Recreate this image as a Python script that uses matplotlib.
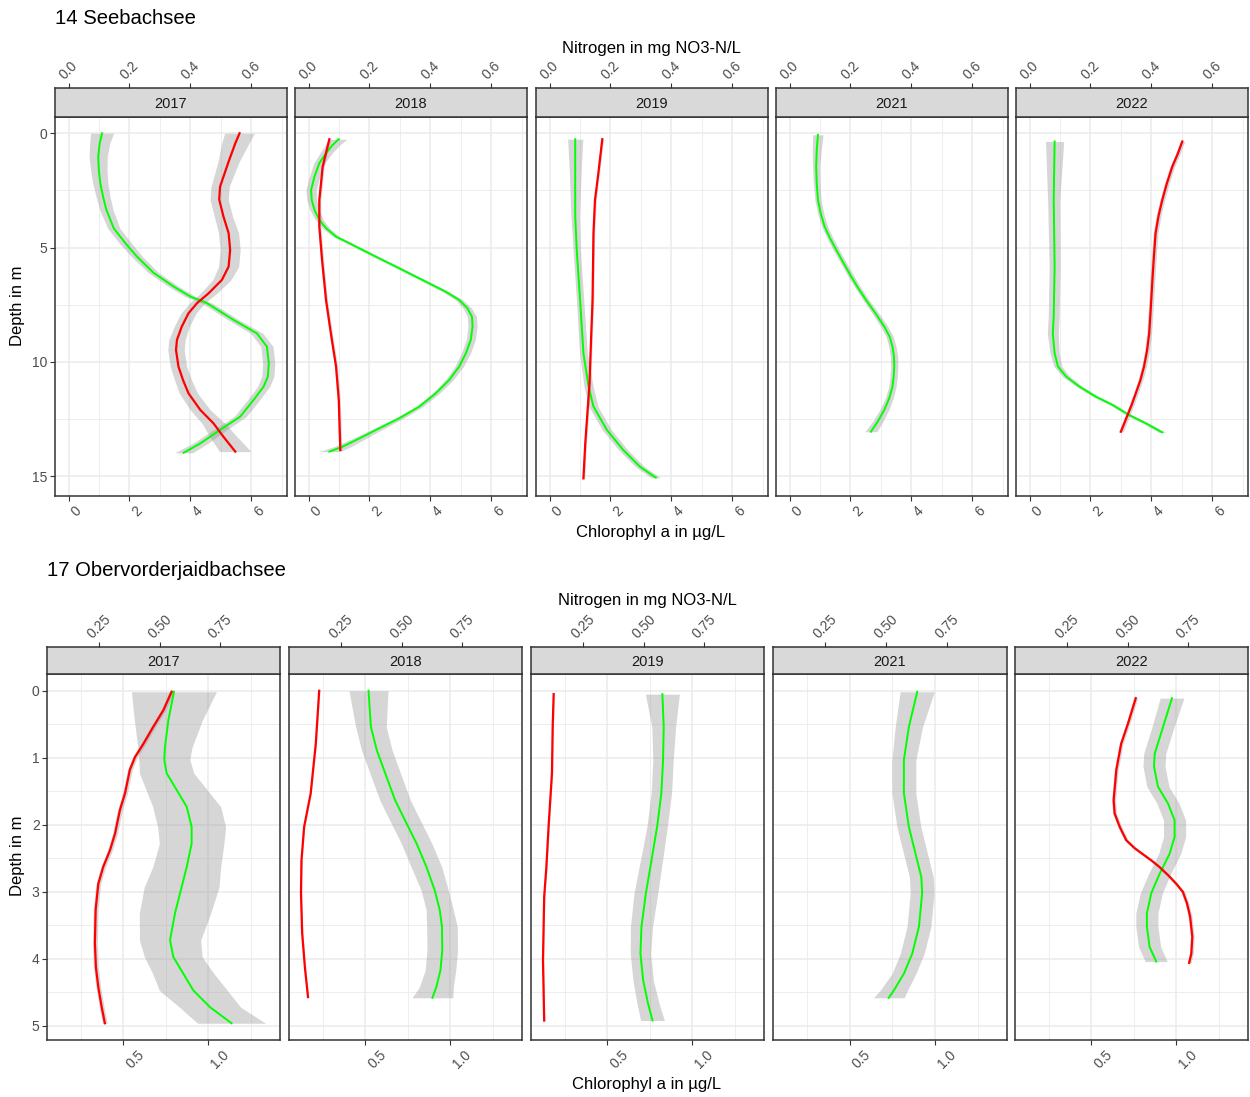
import matplotlib
matplotlib.use('Agg')
import matplotlib.pyplot as plt
import numpy as np

plt.rcParams['font.family'] = ['Liberation Sans', 'DejaVu Sans']

# ---------------- data: lake 14 Seebachsee ----------------
years = ['2017', '2018', '2019', '2021', '2022']

s14_2017_chl_depth = [0, 0.44, 1.02, 1.6, 2.19, 2.77, 3.35, 4.15, 4.8, 5.4, 6.1, 6.7, 7.14, 7.43, 8.16, 8.75, 9.33, 10.06, 10.64, 11.08, 11.66, 12.39, 12.97, 13.56, 13.97]
s14_2017_chl = [1.10, 1.02, 0.97, 0.99, 1.04, 1.13, 1.24, 1.48, 1.86, 2.25, 2.79, 3.45, 4.0, 4.55, 5.42, 6.19, 6.52, 6.58, 6.55, 6.41, 6.08, 5.64, 4.98, 4.33, 3.78]
s14_2017_chl_se = [0.38, 0.33, 0.3, 0.27, 0.25, 0.23, 0.22, 0.2, 0.2, 0.18, 0.17, 0.17, 0.17, 0.17, 0.18, 0.2, 0.2, 0.2, 0.2, 0.2, 0.2, 0.2, 0.22, 0.25, 0.3]
s14_2017_n_depth = [0, 0.44, 1.24, 2.33, 2.9, 3.64, 4.37, 5.1, 5.83, 6.41, 7.0, 7.43, 7.87, 8.45, 9.04, 9.48, 10.2, 10.79, 11.37, 12.1, 12.68, 13.27, 13.92]
s14_2017_n = [0.562, 0.548, 0.526, 0.498, 0.495, 0.509, 0.526, 0.531, 0.526, 0.504, 0.46, 0.422, 0.394, 0.372, 0.356, 0.353, 0.361, 0.376, 0.394, 0.433, 0.476, 0.509, 0.548]
s14_2017_n_se = [0.049, 0.045, 0.035, 0.03, 0.03, 0.03, 0.033, 0.033, 0.033, 0.03, 0.027, 0.025, 0.025, 0.025, 0.027, 0.027, 0.027, 0.028, 0.03, 0.033, 0.038, 0.045, 0.052]

s14_2018_chl_depth = [0.26, 0.51, 0.87, 1.31, 1.90, 2.48, 2.92, 3.35, 3.79, 4.15, 4.52, 4.81, 5.1, 5.47, 5.83, 6.2, 6.56, 6.93, 7.29, 7.65, 8.02, 8.45, 9.04, 9.62, 10.2, 10.79, 11.37, 11.95, 12.46, 12.9, 13.34, 13.7, 13.92]
s14_2018_chl = [0.99, 0.79, 0.57, 0.35, 0.19, 0.08, 0.10, 0.19, 0.35, 0.57, 0.90, 1.34, 1.77, 2.32, 2.87, 3.42, 3.96, 4.51, 4.95, 5.22, 5.37, 5.39, 5.33, 5.17, 4.95, 4.62, 4.18, 3.64, 2.98, 2.32, 1.67, 1.12, 0.68]
s14_2018_chl_se = [0.27, 0.24, 0.2, 0.18, 0.17, 0.17, 0.16, 0.15, 0.13, 0.12, 0.11, 0.1, 0.1, 0.1, 0.1, 0.1, 0.1, 0.11, 0.12, 0.14, 0.15, 0.15, 0.15, 0.15, 0.14, 0.13, 0.12, 0.12, 0.14, 0.17, 0.22, 0.28, 0.35]
s14_2018_n_depth = [0.26, 1.46, 2.92, 4.08, 5.54, 7.29, 8.75, 10.2, 11.66, 13.85]
s14_2018_n = [0.068, 0.046, 0.035, 0.035, 0.044, 0.057, 0.073, 0.09, 0.099, 0.104]
s14_2018_n_se = [0.005] * 10

s14_2019_chl_depth = [0.26, 1.5, 3.64, 5.1, 7.29, 9.62, 11.08, 11.95, 12.97, 13.85, 14.58, 15.06]
s14_2019_chl = [0.84, 0.84, 0.84, 0.89, 1.0, 1.11, 1.28, 1.44, 1.88, 2.42, 2.97, 3.49]
s14_2019_chl_se = [0.25, 0.2, 0.14, 0.12, 0.12, 0.13, 0.15, 0.15, 0.15, 0.15, 0.15, 0.15]
s14_2019_n_depth = [0.26, 1.75, 2.92, 4.37, 7.29, 9.04, 10.93, 12.24, 13.56, 15.09]
s14_2019_n = [0.173, 0.16, 0.149, 0.144, 0.141, 0.136, 0.131, 0.124, 0.117, 0.111]
s14_2019_n_se = [0.004] * 10

s14_2021_chl_depth = [0.07, 0.73, 1.46, 2.19, 2.92, 3.5, 4.08, 4.6, 5.1, 5.6, 6.12, 6.7, 7.29, 7.87, 8.45, 8.9, 9.33, 9.77, 10.2, 10.64, 11.08, 11.6, 12.1, 12.6, 13.05]
s14_2021_chl = [0.93, 0.89, 0.87, 0.89, 0.93, 1.02, 1.15, 1.33, 1.53, 1.74, 1.96, 2.22, 2.51, 2.82, 3.11, 3.29, 3.38, 3.43, 3.44, 3.42, 3.38, 3.27, 3.11, 2.9, 2.67]
s14_2021_chl_se = [0.17, 0.15, 0.12, 0.11, 0.1, 0.1, 0.1, 0.1, 0.1, 0.1, 0.1, 0.1, 0.1, 0.11, 0.12, 0.12, 0.12, 0.12, 0.12, 0.12, 0.12, 0.13, 0.15, 0.17, 0.2]
s14_2021_n_depth = []
s14_2021_n = []
s14_2021_n_se = []

s14_2022_chl_depth = [0.36, 2.92, 5.83, 8.02, 8.75, 9.62, 10.2, 10.64, 11.08, 11.52, 11.88, 12.32, 12.68, 13.08]
s14_2022_chl = [0.82, 0.79, 0.82, 0.79, 0.76, 0.82, 0.93, 1.2, 1.64, 2.18, 2.73, 3.27, 3.82, 4.36]
s14_2022_chl_se = [0.3, 0.2, 0.18, 0.18, 0.18, 0.15, 0.13, 0.12, 0.1, 0.1, 0.1, 0.1, 0.1, 0.12]
s14_2022_n_depth = [0.36, 0.9, 1.46, 2.2, 2.92, 3.6, 4.37, 5.5, 6.56, 7.7, 8.75, 9.5, 10.2, 10.8, 11.37, 11.85, 12.32, 13.05]
s14_2022_n = [0.502, 0.487, 0.469, 0.451, 0.436, 0.424, 0.414, 0.408, 0.403, 0.398, 0.393, 0.386, 0.376, 0.364, 0.349, 0.336, 0.322, 0.300]
s14_2022_n_se = [0.008] * 18

# ---------------- data: lake 17 Obervorderjaidbachsee ----------------
s17_2017_chl_depth = [0.015, 0.44, 0.84, 1.03, 1.23, 1.48, 1.73, 2.03, 2.28, 2.63, 2.93, 3.32, 3.72, 3.97, 4.22, 4.47, 4.72, 4.96]
s17_2017_chl = [0.798, 0.765, 0.745, 0.741, 0.755, 0.814, 0.873, 0.902, 0.902, 0.873, 0.843, 0.804, 0.775, 0.794, 0.853, 0.912, 1.01, 1.137]
s17_2017_chl_se = [0.25, 0.2, 0.16, 0.15, 0.16, 0.18, 0.2, 0.2, 0.19, 0.2, 0.22, 0.21, 0.18, 0.17, 0.18, 0.2, 0.18, 0.2]
s17_2017_n_depth = [0.015, 0.29, 0.54, 0.79, 0.99, 1.18, 1.53, 1.78, 2.13, 2.38, 2.63, 2.88, 3.27, 3.77, 4.12, 4.42, 4.72, 4.96]
s17_2017_n = [0.549, 0.515, 0.473, 0.433, 0.398, 0.377, 0.357, 0.336, 0.316, 0.295, 0.267, 0.247, 0.236, 0.233, 0.237, 0.247, 0.261, 0.274]
s17_2017_n_se = [0.01] * 18

s17_2018_chl_depth = [0, 0.54, 0.89, 1.23, 1.63, 1.93, 2.28, 2.63, 2.98, 3.27, 3.52, 3.87, 4.17, 4.42, 4.58]
s17_2018_chl = [0.519, 0.533, 0.568, 0.617, 0.675, 0.733, 0.802, 0.86, 0.909, 0.938, 0.951, 0.953, 0.942, 0.918, 0.895]
s17_2018_chl_se = [0.115, 0.09, 0.09, 0.09, 0.09, 0.09, 0.09, 0.09, 0.08, 0.08, 0.09, 0.09, 0.09, 0.1, 0.12]
s17_2018_n_depth = [0, 0.79, 1.53, 2.03, 2.53, 3.02, 3.62, 4.12, 4.57]
s17_2018_n = [0.160, 0.146, 0.125, 0.098, 0.087, 0.085, 0.090, 0.101, 0.114]
s17_2018_n_se = [0.003] * 9

s17_2019_chl_depth = [0.05, 0.54, 1.03, 1.53, 2.03, 2.53, 3.02, 3.52, 3.92, 4.32, 4.67, 4.92]
s17_2019_chl = [0.824, 0.832, 0.828, 0.818, 0.793, 0.76, 0.727, 0.701, 0.695, 0.711, 0.74, 0.766]
s17_2019_chl_se = [0.1, 0.07, 0.06, 0.06, 0.06, 0.065, 0.07, 0.065, 0.06, 0.06, 0.065, 0.07]
s17_2019_n_depth = [0.05, 0.54, 1.23, 1.63, 2.03, 2.63, 3.07, 4.02, 4.92]
s17_2019_n = [0.129, 0.125, 0.122, 0.115, 0.108, 0.099, 0.090, 0.085, 0.090]
s17_2019_n_se = [0.003] * 9

s17_2021_chl_depth = [0.015, 0.54, 1.03, 1.53, 2.03, 2.43, 2.78, 3.02, 3.52, 3.92, 4.22, 4.47, 4.58]
s17_2021_chl = [0.896, 0.847, 0.818, 0.818, 0.847, 0.886, 0.92, 0.925, 0.906, 0.867, 0.818, 0.759, 0.729]
s17_2021_chl_se = [0.1, 0.08, 0.07, 0.07, 0.07, 0.07, 0.07, 0.07, 0.07, 0.07, 0.07, 0.08, 0.09]
s17_2021_n_depth = []
s17_2021_n = []
s17_2021_n_se = []

s17_2022_chl_depth = [0.11, 0.54, 0.94, 1.13, 1.43, 1.68, 1.93, 2.18, 2.43, 2.73, 3.02, 3.32, 3.52, 3.82, 4.04]
s17_2022_chl = [0.975, 0.922, 0.873, 0.869, 0.892, 0.951, 0.99, 0.99, 0.961, 0.902, 0.853, 0.827, 0.827, 0.843, 0.882]
s17_2022_chl_se = [0.07, 0.065, 0.065, 0.065, 0.065, 0.065, 0.065, 0.065, 0.065, 0.065, 0.065, 0.065, 0.065, 0.065, 0.065]
s17_2022_n_depth = [0.11, 0.49, 0.79, 1.18, 1.63, 1.83, 2.03, 2.23, 2.35, 2.44, 2.53, 2.63, 2.75, 2.88, 3.0, 3.17, 3.37, 3.67, 3.92, 4.06]
s17_2022_n = [0.533, 0.501, 0.473, 0.453, 0.442, 0.446, 0.467, 0.494, 0.529, 0.563, 0.597, 0.631, 0.666, 0.70, 0.727, 0.744, 0.757, 0.766, 0.762, 0.753]
s17_2022_n_se = [0.008] * 20

# tick labels
s14_chl_ticks = [0, 2, 4, 6]
s14_n_ticks = [0.0, 0.2, 0.4, 0.6]
s14_depth_ticks = [0, 5, 10, 15]
s17_chl_ticks = [0.5, 1.0]
s17_n_ticks = [0.25, 0.50, 0.75]
s17_depth_ticks = [0, 1, 2, 3, 4, 5]

lake14 = {
    '2017': (s14_2017_chl_depth, s14_2017_chl, s14_2017_chl_se, s14_2017_n_depth, s14_2017_n, s14_2017_n_se),
    '2018': (s14_2018_chl_depth, s14_2018_chl, s14_2018_chl_se, s14_2018_n_depth, s14_2018_n, s14_2018_n_se),
    '2019': (s14_2019_chl_depth, s14_2019_chl, s14_2019_chl_se, s14_2019_n_depth, s14_2019_n, s14_2019_n_se),
    '2021': (s14_2021_chl_depth, s14_2021_chl, s14_2021_chl_se, s14_2021_n_depth, s14_2021_n, s14_2021_n_se),
    '2022': (s14_2022_chl_depth, s14_2022_chl, s14_2022_chl_se, s14_2022_n_depth, s14_2022_n, s14_2022_n_se),
}
lake17 = {
    '2017': (s17_2017_chl_depth, s17_2017_chl, s17_2017_chl_se, s17_2017_n_depth, s17_2017_n, s17_2017_n_se),
    '2018': (s17_2018_chl_depth, s17_2018_chl, s17_2018_chl_se, s17_2018_n_depth, s17_2018_n, s17_2018_n_se),
    '2019': (s17_2019_chl_depth, s17_2019_chl, s17_2019_chl_se, s17_2019_n_depth, s17_2019_n, s17_2019_n_se),
    '2021': (s17_2021_chl_depth, s17_2021_chl, s17_2021_chl_se, s17_2021_n_depth, s17_2021_n, s17_2021_n_se),
    '2022': (s17_2022_chl_depth, s17_2022_chl, s17_2022_chl_se, s17_2022_n_depth, s17_2022_n, s17_2022_n_se),
}

# ---------------- layout ----------------
W, H = 1250, 1097
fig = plt.figure(figsize=(W / 100, H / 100), dpi=100)
fig.patch.set_facecolor('white')


def rect(x0, y0, x1, y1):
    return [x0 / W, 1 - y1 / H, (x1 - x0) / W, (y1 - y0) / H]


BORDER = '#333333'
GRID = '#ebebeb'
TICKC = '#4d4d4d'
TICKFS = 10
STRIPFS = 10.5
RIBBON = '#999999'
TICKLEN = 3.3


def draw_section(data, xs, strip_y, panel_y, xlim, ylim, chl_ticks, chl_minor, chl_fmt,
                 n_factor, n_ticks, n_fmt, depth_ticks, depth_minor):
    for i, yr in enumerate(years):
        x0, x1 = xs[i]
        ax = fig.add_axes(rect(x0, panel_y[0], x1, panel_y[1]))
        cd, cv, cse, nd, nv, nse = data[yr]
        cd = np.asarray(cd); cv = np.asarray(cv); cse = np.asarray(cse)
        nd = np.asarray(nd); nv = np.asarray(nv) / n_factor; nse = np.asarray(nse) / n_factor
        ax.fill_betweenx(cd, cv - cse, cv + cse, color=RIBBON, alpha=0.4, lw=0, zorder=2)
        if len(nd):
            ax.fill_betweenx(nd, nv - nse, nv + nse, color=RIBBON, alpha=0.4, lw=0, zorder=2)
        ax.plot(cv, cd, color='#00ff00', lw=1.4, zorder=3, solid_joinstyle='round')
        if len(nd):
            ax.plot(nv, nd, color='#ff0000', lw=1.6, zorder=3, solid_joinstyle='round')
        ax.set_xlim(*xlim)
        ax.set_ylim(*ylim)
        ax.set_xticks(chl_ticks)
        ax.set_xticks(chl_minor, minor=True)
        ax.set_yticks(depth_ticks)
        ax.set_yticks(depth_minor, minor=True)
        ax.grid(True, which='major', color=GRID, lw=1.1, zorder=0)
        ax.grid(True, which='minor', color=GRID, lw=0.6, zorder=0)
        ax.set_axisbelow(True)
        for s in ax.spines.values():
            s.set_color(BORDER)
            s.set_linewidth(1.1)
        ax.tick_params(which='minor', length=0)
        ax.tick_params(which='major', length=TICKLEN, width=0.8, color=BORDER, labelcolor=TICKC,
                       labelsize=TICKFS, pad=2)
        ax.set_xticklabels([chl_fmt(v) for v in chl_ticks], rotation=45, ha='left', va='top')
        if i == 0:
            ax.set_yticklabels([str(v) for v in depth_ticks])
        else:
            ax.tick_params(axis='y', labelleft=False, length=0)
        # strip with nitrogen axis on top
        sx = fig.add_axes(rect(x0, strip_y[0], x1, strip_y[1]))
        sx.set_facecolor('#d9d9d9')
        for s in sx.spines.values():
            s.set_color(BORDER)
            s.set_linewidth(1.1)
        sx.set_xlim(xlim[0] * n_factor, xlim[1] * n_factor)
        sx.set_ylim(0, 1)
        sx.set_yticks([])
        sx.xaxis.tick_top()
        sx.set_xticks(n_ticks)
        sx.set_xticklabels([n_fmt(v) for v in n_ticks], rotation=45, ha='center', va='bottom')
        sx.tick_params(axis='x', length=TICKLEN, width=0.8, color=BORDER, labelcolor=TICKC,
                       labelsize=TICKFS, pad=1)
        sx.text(0.5, 0.5, yr, transform=sx.transAxes, ha='center', va='center_baseline',
                fontsize=STRIPFS, color='#1a1a1a')


# top section
draw_section(lake14,
             xs=[(55, 287), (295, 527), (536, 768), (776, 1008), (1016, 1248)],
             strip_y=(88, 117), panel_y=(117, 496),
             xlim=(-0.45, 7.18), ylim=(15.86, -0.71),
             chl_ticks=s14_chl_ticks, chl_minor=[1, 3, 5, 7], chl_fmt=lambda v: f'{v:d}',
             n_factor=0.1, n_ticks=s14_n_ticks, n_fmt=lambda v: f'{v:.1f}',
             depth_ticks=s14_depth_ticks, depth_minor=[2.5, 7.5, 12.5])

# bottom section
draw_section(lake17,
             xs=[(47, 280), (289, 522), (531, 764), (773, 1007), (1015, 1248)],
             strip_y=(647, 674), panel_y=(674, 1040),
             xlim=(0.051, 1.422), ylim=(5.21, -0.25),
             chl_ticks=s17_chl_ticks, chl_minor=[0.25, 0.75, 1.25], chl_fmt=lambda v: f'{v:.1f}',
             n_factor=0.7, n_ticks=s17_n_ticks, n_fmt=lambda v: f'{v:.2f}',
             depth_ticks=s17_depth_ticks, depth_minor=[0.5, 1.5, 2.5, 3.5, 4.5])

# titles and axis labels
TITLEFS = 14.6
AXFS = 12
fig.text(55 / W, 1 - 18 / H, '14 Seebachsee', ha='left', va='center', fontsize=TITLEFS, color='black')
fig.text(47 / W, 1 - 570 / H, '17 Obervorderjaidbachsee', ha='left', va='center', fontsize=TITLEFS, color='black')
fig.text(651 / W, 1 - 49 / H, 'Nitrogen in mg NO3-N/L', ha='center', va='center', fontsize=AXFS)
fig.text(651 / W, 1 - 533 / H, 'Chlorophyl a in µg/L', ha='center', va='center', fontsize=AXFS)
fig.text(647 / W, 1 - 601 / H, 'Nitrogen in mg NO3-N/L', ha='center', va='center', fontsize=AXFS)
fig.text(647 / W, 1 - 1085 / H, 'Chlorophyl a in µg/L', ha='center', va='center', fontsize=AXFS)
fig.text(18 / W, 1 - 306 / H, 'Depth in m', ha='center', va='center', rotation=90, fontsize=AXFS)
fig.text(18 / W, 1 - 856 / H, 'Depth in m', ha='center', va='center', rotation=90, fontsize=AXFS)

fig.savefig('out.png', dpi=100, facecolor='white')
